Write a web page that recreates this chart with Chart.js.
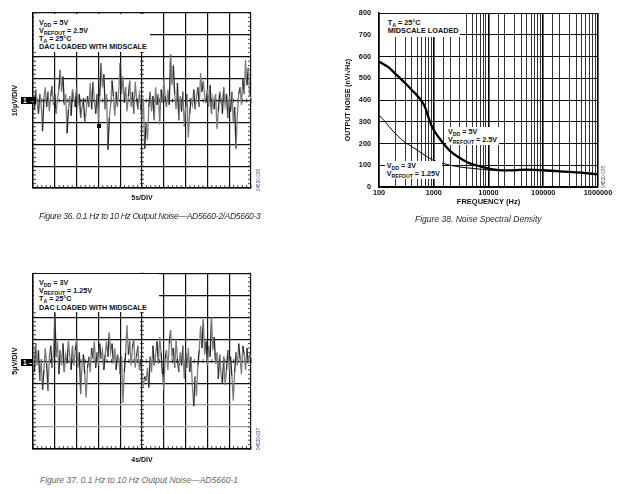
<!DOCTYPE html>
<html>
<head>
<meta charset="utf-8">
<script src="https://cdn.jsdelivr.net/npm/chart.js@4.4.1/dist/chart.umd.min.js"></script>
<style>
  body { margin: 0; background: #fff; }
  #page { position: relative; width: 620px; height: 494px; overflow: hidden; font-family: Arial, "Liberation Sans", sans-serif; color: #111; }
  canvas { position: absolute; }
  .note { position: absolute; background: #fff; font-weight: bold; font-size: 7.2px; line-height: 8px; white-space: nowrap; box-sizing: border-box; }
  .note sub { font-size: 5.2px; vertical-align: -1.6px; line-height: 0; }
  .cap { position: absolute; font-style: italic; font-size: 8.5px; line-height: 10px; white-space: nowrap; color: #2a2a2a; }
  .mark { position: absolute; background: #000; color: #fff; font-weight: bold; font-size: 6.5px; line-height: 7px; height: 7px; padding: 0 1px 0 2px; }
  .code { position: absolute; font-size: 4.6px; line-height: 5px; color: #3d4a78; transform: rotate(-90deg); transform-origin: left top; white-space: nowrap; }
</style>
</head>
<body>
<div id="page">
  <canvas id="scopeA" width="270" height="210" style="left:0;top:0"></canvas>
  <canvas id="nsd" width="300" height="210" style="left:320px;top:0"></canvas>
  <canvas id="scopeB" width="270" height="210" style="left:0;top:260px"></canvas>

  <div class="note" style="left:34px;top:14px;width:116px;height:38px;padding:4.7px 0 0 5px">
    <div>V<sub>DD</sub> = 5V</div>
    <div>V<sub>REFOUT</sub> = 2.5V</div>
    <div>T<sub>A</sub> = 25°C</div>
    <div>DAC LOADED WITH MIDSCALE</div>
  </div>
  <div class="mark" style="left:21px;top:97px">1 →</div>
  <div style="position:absolute;left:96.5px;top:124px;width:4px;height:4px;background:#000"></div>
  <div class="code" style="left:256px;top:191px">04520-036</div>
  <div class="cap" style="left:39px;top:211px;letter-spacing:-0.3px">Figure 36. 0.1 Hz to 10 Hz Output Noise—AD5660-2/AD5660-3</div>

  <div class="note" style="left:380px;top:14px;width:80px;height:23px;padding:4.7px 0 0 7.7px;font-size:7.3px">
    <div>T<sub>A</sub> = 25°C</div>
    <div>MIDSCALE LOADED</div>
  </div>
  <div class="note" style="left:446px;top:126.7px;padding:1px 2px;line-height:8.3px">
    <div>V<sub>DD</sub> = 5V</div>
    <div>V<sub>REFOUT</sub> = 2.5V</div>
  </div>
  <div class="note" style="left:384.7px;top:160.7px;padding:1px 2px;line-height:8.3px">
    <div>V<sub>DD</sub> = 3V</div>
    <div>V<sub>REFOUT</sub> = 1.25V</div>
  </div>
  <div class="code" style="left:601px;top:188px">04520-038</div>
  <div class="cap" style="left:415px;top:214px">Figure 38. Noise Spectral Density</div>

  <div class="note" style="left:34px;top:274px;width:125px;height:38px;padding:5.3px 0 0 5px;line-height:8.1px">
    <div>V<sub>DD</sub> = 3V</div>
    <div>V<sub>REFOUT</sub> = 1.25V</div>
    <div>T<sub>A</sub> = 25°C</div>
    <div>DAC LOADED WITH MIDSCALE</div>
  </div>
  <div class="mark" style="left:21px;top:358.5px">1 –</div>
  <div class="code" style="left:256px;top:450px">04520-037</div>
  <div class="cap" style="left:40px;top:475px;color:#666">Figure 37. 0.1 Hz to 10 Hz Output Noise—AD5660-1</div>
</div>

<script>
  Chart.defaults.font.family = 'Arial, "Liberation Sans", sans-serif';
  Chart.defaults.color = "#111";

  // scope traces, in divisions from the centre line, 16 samples per division
  var noiseA = [
    0.2, -0.4, 0.5, -0.1, -0.6, 0.3, -0.2, -1.4, 0.1, 0.6, -0.3, 0.4, -0.5, 0.2, 0.65, -0.2,
    0.3, -0.6, 0.1, 0.5, 1.4, 0.4, 1.1, -0.2, 0.3, -1.5, -0.4, 0.2, -0.7, 0.5, 0.1, -0.3,
    0.6, -0.2, 0.3, -0.8, -0.3, 0.1, -1.0, -0.5, 0.2, -0.3, 0.8, -0.4, 0.85, 0.1, -0.6, 0.3,
    -0.9, 0.2, 1.7, 0.6, 1.2, -0.4, 0.3, -2.25, -0.8, -0.2, 0.9, 0.2, -0.7, 0.4, -0.3, 0.5,
    1.7, 0.3, 1.1, -0.1, 0.6, -0.5, 0.2, 0.9, -0.3, 0.4, -0.6, 0.85, 0.1, -0.4, 0.3, -0.2,
    -0.8, 0.1, -2.2, -1.0, -1.8, -0.3, 0.4, -0.5, 0.2, -0.9, 0.6, -0.2, 0.3, -1.1, 0.5, -0.1,
    0.9, 0.2, -0.3, 0.5, -0.2, 2.1, 0.7, 1.6, 0.3, -0.4, 0.8, -0.9, 0.2, -0.5, 0.4, -1.2,
    -0.3, 0.3, -1.7, -0.6, 0.1, -0.2, 0.5, -0.4, 0.2, 0.6, -0.3, 1.25, 0.4, 0.9, 0.2, -0.1,
    0.5, -0.3, 0.7, -0.6, 0.1, -0.4, 0.3, -1.3, -0.5, 0.4, 0.1, -0.6, 0.6, -0.2, 0.3, -0.8,
    0.2, -0.5, 0.4, -1.0, -0.3, -2.2, -0.6, 0.3, 0.6, -0.2, 1.0, 0.3, 1.85, 0.7, 1.5, 0.2,
    0.1
  ];
  var noiseB = [
    0.3, -0.5, 0.8, -0.2, 0.5, -0.9, 0.1, -1.3, -0.4, 0.6, -0.1, -1.35, 0.2, 0.7, -0.3, 0.4,
    2.2, 0.2, 0.9, -0.6, 0.5, -0.2, 0.8, -0.5, 0.3, -0.1, 0.9, 0.2, -0.4, 0.7, -0.2, 0.5,
    0.95, -0.3, 0.4, -1.5, -0.2, 0.3, -0.6, -1.65, -0.3, 0.2, -0.5, 0.6, 0.1, 0.9, -0.3, 0.4,
    -0.2, 0.8, 0.1, 0.5, -0.4, 0.3, 0.9, 0.2, 1.3, 0.4, 0.8, -0.1, 0.6, -0.4, 0.3, 0.1,
    -0.6, 0.2, -1.9, -0.5, 0.4, 1.65, 0.3, 0.9, -0.2, 0.6, 1.0, -0.3, 0.2, 0.7, -0.4, 0.1,
    -0.8, -1.1, -0.7, -0.9, -0.3, -1.2, 0.2, -0.5, 0.7, -0.2, 0.3, 0.9, -0.1, 1.1, 0.4, -0.6,
    -1.3, 0.1, 0.5, -0.4, 0.8, 1.4, 0.2, 0.6, -0.3, 1.0, 0.1, -0.5, 0.4, -0.2, 0.7, -0.8,
    0.4, -0.3, 0.6, -0.5, 0.2, -1.2, -2.05, -0.7, -1.6, -0.2, 0.5, 1.6, 0.6, 1.9, 0.3, 0.9,
    -0.2, 0.7, 0.2, 2.0, 0.5, 1.1, -0.1, 0.4, -0.8, 0.3, -0.6, -1.0, 0.2, -1.1, -0.4, 0.5,
    -0.3, 0.2, -0.7, -1.8, -0.5, 0.4, -0.2, 0.8, 0.1, -0.6, 0.7, 0.3, -0.4, 0.6, -0.1, 0.3,
    0.2
  ];

  // noise spectral density, nV/rtHz
  var freq = [100, 130, 150, 200, 250, 300, 400, 500, 600, 700, 800, 900, 1000, 1200, 1500, 2000,
    3000, 4000, 5000, 7000, 10000, 15000, 20000, 30000, 50000, 70000, 100000, 200000, 300000,
    500000, 700000, 1000000];
  var nsd5v = [577, 560, 550, 520, 497, 478, 445, 420, 395, 365, 320, 285, 262, 232, 200, 165,
    133, 115, 105, 95, 85, 78, 76, 77, 80, 79, 77, 72, 70, 66, 62, 58];
  var nsd3v = [330, 300, 280, 245, 222, 205, 185, 170, 155, 145, 135, 128, 122, 115, 108, 100,
    92, 88, 86, 82, 78, 77, 76, 77, 79, 78, 76, 71, 69, 65, 61, 57];
  var decadeTicks = [100, 1000, 10000, 100000, 1000000];

  // small graticule marks along the borders and centre lines of the scope plots
  var graticule = {
    id: "graticule",
    beforeDatasetsDraw: function (chart) {
      var ctx = chart.ctx, x = chart.scales.x, y = chart.scales.y;
      var cx = x.getPixelForValue(80), cy = y.getPixelForValue(0);
      ctx.save();
      ctx.strokeStyle = "#111";
      ctx.lineWidth = 0.8;
      ctx.beginPath();
      for (var v = -4; v <= 4.001; v += 0.2) {
        var py = y.getPixelForValue(v);
        ctx.moveTo(x.left, py); ctx.lineTo(x.left + 3, py);
        ctx.moveTo(x.right, py); ctx.lineTo(x.right - 3, py);
        ctx.moveTo(cx - 2, py); ctx.lineTo(cx + 2, py);
      }
      for (var u = 0; u <= 160.01; u += 3.2) {
        var px = x.getPixelForValue(u);
        ctx.moveTo(px, cy - 2); ctx.lineTo(px, cy + 2);
        ctx.moveTo(px, y.bottom); ctx.lineTo(px, y.bottom - 3);
      }
      ctx.stroke();
      ctx.restore();
    }
  };

  function scopeChart(id, trace, xTitle, yTitle, lightRows, pad) {
    var labels = trace.map(function (v, i) { return i; });
    return new Chart(document.getElementById(id), {
      type: "line",
      data: {
        labels: labels,
        datasets: [{
          data: trace,
          borderWidth: 1.3,
          pointRadius: 0,
          tension: 0,
          borderColor: "#777",
          segment: {
            borderColor: function (c) { return c.p0DataIndex % 3 === 1 ? "#262626" : "#7c7c7c"; }
          }
        }]
      },
      options: {
        responsive: false,
        animation: false,
        events: [],
        layout: { padding: { top: pad.top, right: 19, left: 0, bottom: 0 } },
        plugins: { legend: { display: false }, tooltip: { enabled: false } },
        scales: {
          x: {
            type: "linear",
            min: 0,
            max: 160,
            ticks: { display: false, stepSize: 16 },
            grid: { color: "#111", lineWidth: 1.2, drawTicks: false },
            border: { color: "#000", width: 1.4 },
            title: { display: true, text: xTitle, font: { size: 7, weight: "bold" }, padding: { top: 0, bottom: pad.xt } },
            afterFit: function (s) { s.height = pad.xh; s.paddingLeft = 0; s.paddingRight = 0; }
          },
          y: {
            min: -4,
            max: 4,
            ticks: { display: false, stepSize: 1 },
            grid: {
              color: function (c) {
                return c.tick && lightRows.indexOf(c.tick.value) >= 0 ? "#a0a0a0" : "#111";
              },
              lineWidth: 1.2,
              drawTicks: false
            },
            border: { color: "#000", width: 1.4 },
            title: { display: true, text: yTitle, font: { size: 7.3, weight: "bold" }, padding: { top: 10.5, bottom: 0 } },
            afterFit: function (s) { s.width = 33; s.paddingTop = 0; s.paddingBottom = 0; }
          }
        }
      },
      plugins: [graticule]
    });
  }

  scopeChart("scopeA", noiseA, "5s/DIV", "10µV/DIV", [], { top: 13, xh: 22, xt: 7.8 });
  scopeChart("scopeB", noiseB, "4s/DIV", "5µV/DIV", [-2, -3], { top: 13.3, xh: 21, xt: 6.2 });

  function isDecade(v) {
    return decadeTicks.indexOf(v) >= 0;
  }

  new Chart(document.getElementById("nsd"), {
    type: "line",
    data: {
      labels: freq,
      datasets: [
        { label: "VDD = 5V", data: nsd5v, borderColor: "#000", borderWidth: 2.3, pointRadius: 0, cubicInterpolationMode: "monotone" },
        { label: "VDD = 3V", data: nsd3v, borderColor: "#000", borderWidth: 1, pointRadius: 0, cubicInterpolationMode: "monotone" }
      ]
    },
    options: {
      responsive: false,
      animation: false,
      events: [],
      layout: { padding: { top: 13, right: 22, left: 0, bottom: 0 } },
      plugins: { legend: { display: false }, tooltip: { enabled: false } },
      scales: {
        x: {
          type: "logarithmic",
          min: 100,
          max: 1000000,
          ticks: {
            autoSkip: false,
            maxRotation: 0,
            padding: 2,
            font: { size: 7.3, weight: "bold" },
            callback: function (v) { return isDecade(v) ? String(v) : ""; }
          },
          grid: {
            color: function (c) { return c.tick && isDecade(c.tick.value) ? "#000" : "#333"; },
            lineWidth: function (c) { return c.tick && isDecade(c.tick.value) ? 1.6 : 1; },
            drawTicks: false
          },
          border: { color: "#000", width: 1.4 },
          title: { display: true, text: "FREQUENCY (Hz)", font: { size: 7.5, weight: "bold" }, padding: { top: 0, bottom: 3.5 } },
          afterFit: function (s) { s.height = 23; s.paddingLeft = 0; s.paddingRight = 0; }
        },
        y: {
          min: 0,
          max: 800,
          ticks: { stepSize: 100, padding: 8, font: { size: 7.3, weight: "bold" } },
          grid: { color: "#111", lineWidth: 1, drawTicks: false },
          border: { color: "#000", width: 1.4 },
          title: { display: true, text: "OUTPUT NOISE (nV/√Hz)", font: { size: 7, weight: "bold" }, padding: { top: 24, bottom: 0 } },
          afterFit: function (s) { s.width = 59; s.paddingTop = 0; s.paddingBottom = 0; }
        }
      }
    }
  });
</script>
</body>
</html>
